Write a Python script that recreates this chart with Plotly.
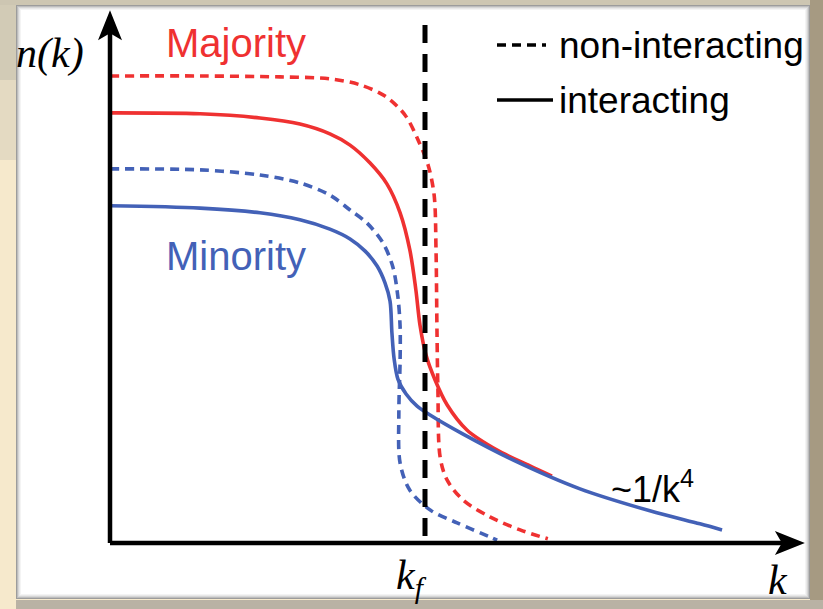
import plotly.graph_objects as go

# Momentum distributions n(k), k in units of k_f, n normalised to the free majority plateau
k_maj_free = [0, 0.286, 0.540, 0.698, 0.794, 0.873, 0.937, 0.978, 1.010, 1.029, 1.035, 1.038, 1.041, 1.048, 1.070, 1.121, 1.206, 1.302, 1.390]
n_maj_free = [1.000, 1.000, 0.998, 0.994, 0.981, 0.957, 0.916, 0.863, 0.809, 0.745, 0.627, 0.456, 0.328, 0.184, 0.135, 0.092, 0.056, 0.028, 0.009]

k_maj_int = [0, 0.286, 0.476, 0.603, 0.698, 0.762, 0.825, 0.879, 0.921, 0.952, 0.971, 0.984, 1.003, 1.032, 1.070, 1.133, 1.229, 1.333, 1.403]
n_maj_int = [0.921, 0.919, 0.910, 0.897, 0.876, 0.852, 0.814, 0.769, 0.707, 0.627, 0.542, 0.467, 0.403, 0.349, 0.296, 0.242, 0.199, 0.165, 0.143]

k_min_free = [0, 0.286, 0.476, 0.603, 0.698, 0.762, 0.816, 0.867, 0.898, 0.914, 0.921, 0.921, 0.917, 0.921, 0.952, 1.016, 1.102, 1.206, 1.229]
n_min_free = [0.801, 0.799, 0.788, 0.771, 0.745, 0.713, 0.685, 0.642, 0.591, 0.527, 0.463, 0.392, 0.278, 0.171, 0.113, 0.071, 0.043, 0.013, 0.006]

k_min_int = [0, 0.286, 0.476, 0.603, 0.698, 0.762, 0.810, 0.848, 0.873, 0.889, 0.895, 0.902, 0.914, 0.940, 0.975, 1.016, 1.121, 1.279, 1.492, 1.714, 1.873, 1.943]
n_min_int = [0.722, 0.717, 0.707, 0.692, 0.672, 0.651, 0.625, 0.593, 0.557, 0.518, 0.450, 0.394, 0.351, 0.319, 0.293, 0.274, 0.233, 0.178, 0.116, 0.069, 0.041, 0.028]

k_fermi = 1.0
k_axis_end = 2.206
n_axis_end = 1.141
n_fermi_top = 1.109

RED = "#ef3131"
BLUE = "#4361b7"
W, H = 823, 609

# axis ranges chosen so the whole canvas is the plotting area
X_RANGE = [-0.3492, 2.2635]
Y_RANGE = [-0.1413, 1.1627]


def px(x):
    return x / W


def py(y):
    return 1 - y / H


fig = go.Figure()


def curve(k, n, color, dash):
    fig.add_trace(go.Scatter(
        x=k, y=n, mode="lines",
        line=dict(color=color, width=3.6, dash=dash, shape="spline", smoothing=0.9),
        hoverinfo="skip", showlegend=False))


curve(k_maj_free, n_maj_free, RED, "9px,6px")
curve(k_min_free, n_min_free, BLUE, "9px,6px")
curve(k_maj_int, n_maj_int, RED, "solid")
curve(k_min_int, n_min_int, BLUE, "solid")

# Fermi momentum marker, drawn top-down so the dash pattern starts at the top
fig.add_trace(go.Scatter(
    x=[k_fermi, k_fermi], y=[n_fermi_top, 0], mode="lines",
    line=dict(color="black", width=5, dash="18px,11px"),
    hoverinfo="skip", showlegend=False))

shapes = []
# frame: beige surround, white bevelled panel
shapes.append(dict(type="rect", xref="paper", yref="paper", x0=0, x1=1, y0=0, y1=1,
                   fillcolor="#f6e9cc", line_width=0, layer="below"))
shapes.append(dict(type="rect", xref="paper", yref="paper", x0=0, x1=px(16), y0=py(80), y1=1,
                   fillcolor="#d2cbb6", line_width=0, layer="below"))
shapes.append(dict(type="rect", xref="paper", yref="paper", x0=0, x1=px(16), y0=py(160), y1=py(80),
                   fillcolor="#e4dac2", line_width=0, layer="below"))
shapes.append(dict(type="rect", xref="paper", yref="paper", x0=0, x1=1, y0=py(5), y1=1,
                   fillcolor="#cdc6b2", line_width=0, layer="below"))
shapes.append(dict(type="rect", xref="paper", yref="paper", x0=px(810), x1=1, y0=0, y1=1,
                   fillcolor="#a69a82", line_width=0, layer="below"))
shapes.append(dict(type="rect", xref="paper", yref="paper", x0=px(16), x1=1, y0=0, y1=py(600),
                   fillcolor="#b9b2a4", line_width=0, layer="below"))
# bevel shades
bevel = [("#9c9c9c", 0), ("#bdbdbd", 1), ("#d6d6d6", 2), ("#e8e8e8", 3), ("#f4f4f4", 4)]
for col, i in bevel:
    shapes.append(dict(type="rect", xref="paper", yref="paper",
                       x0=px(16 + i), x1=px(810 - i), y0=py(599 - i), y1=py(5 + i),
                       fillcolor=col, line_width=0, layer="below"))
shapes.append(dict(type="rect", xref="paper", yref="paper",
                   x0=px(21), x1=px(805), y0=py(594), y1=py(10),
                   fillcolor="white", line_width=0, layer="below"))

# axes
shapes.append(dict(type="line", xref="x", yref="y", x0=0, x1=0, y0=0, y1=n_axis_end - 0.04,
                   line=dict(color="black", width=4.5)))
shapes.append(dict(type="line", xref="x", yref="y", x0=0, x1=k_axis_end - 0.05, y0=0, y1=0,
                   line=dict(color="black", width=4.5)))
# arrow heads (pixel-sized, anchored at the axis ends)
shapes.append(dict(type="path", xref="x", yref="y", xsizemode="pixel", ysizemode="pixel",
                   xanchor=0, yanchor=n_axis_end,
                   path="M0,0 L-12,-30 L0,-23 L12,-30 Z", fillcolor="black", line_width=0))
shapes.append(dict(type="path", xref="x", yref="y", xsizemode="pixel", ysizemode="pixel",
                   xanchor=k_axis_end, yanchor=0,
                   path="M0,0 L-30,12 L-23,0 L-30,-12 Z", fillcolor="black", line_width=0))

# legend samples
shapes.append(dict(type="line", xref="paper", yref="paper", x0=px(497), x1=px(546), y0=py(45), y1=py(45),
                   line=dict(color="black", width=3.5, dash="9px,6px")))
shapes.append(dict(type="line", xref="paper", yref="paper", x0=px(497), x1=px(553), y0=py(100), y1=py(100),
                   line=dict(color="black", width=3.5)))

SANS = "Liberation Sans, Arial, sans-serif"
SERIF = "Liberation Serif, Times New Roman, serif"


def label(text, x, y, size, color="black", family=SANS, xanchor="left", italic=False):
    return dict(text=text, x=px(x), y=py(y), xref="paper", yref="paper", showarrow=False,
                xanchor=xanchor, yanchor="middle",
                font=dict(size=size, color=color, family=family, style="italic" if italic else "normal"))


annotations = [
    label("Majority", 164, 43, 40, RED),
    label("Minority", 164, 256, 40, BLUE),
    label("non-interacting", 557, 45, 37),
    label("interacting", 557, 100, 37),
    label("~1/k<sup>4</sup>", 609, 487, 36),
    label("n(k)", 50, 53, 42, family=SERIF, xanchor="center", italic=True),
    label("k<sub>f</sub>", 411, 578, 42, family=SERIF, xanchor="center", italic=True),
    label("k", 778, 580, 42, family=SERIF, xanchor="center", italic=True),
]

fig.update_layout(
    width=W, height=H,
    margin=dict(l=0, r=0, t=0, b=0),
    paper_bgcolor="#f6e9cc", plot_bgcolor="rgba(0,0,0,0)",
    xaxis=dict(range=X_RANGE, visible=False, fixedrange=True),
    yaxis=dict(range=Y_RANGE, visible=False, fixedrange=True),
    shapes=shapes, annotations=annotations,
    showlegend=False,
)

fig.write_html("out.html", config=dict(displayModeBar=False))
